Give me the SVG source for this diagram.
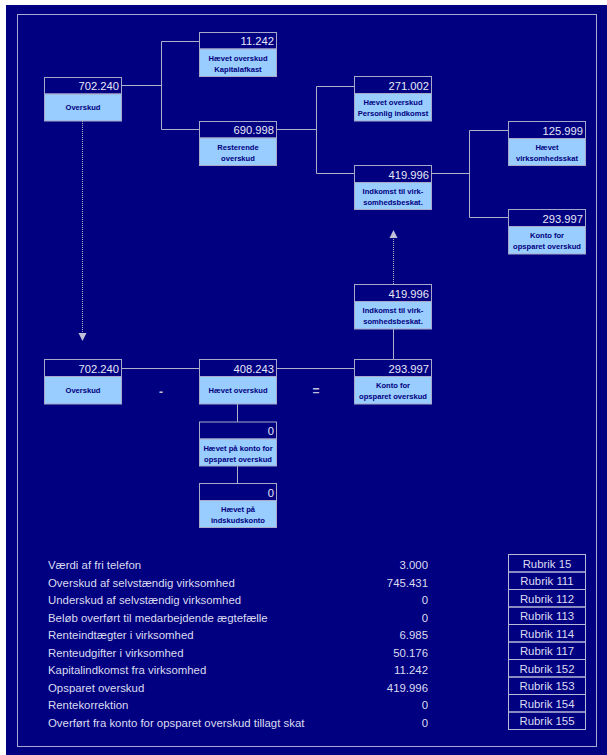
<svg xmlns="http://www.w3.org/2000/svg" width="607" height="755" viewBox="0 0 607 755">
  <style>
    .frame { fill: none; stroke: #a8a8d0; stroke-width: 1; }
    .hdr { fill: #000080; stroke: #a8a8c8; stroke-width: 1; }
    .lbl { fill: #99ccff; stroke: #a8a8c8; stroke-width: 1; }
    .val { font-family: "Liberation Sans", Arial, sans-serif; font-size: 11.2px; fill: #e8e8f8; text-anchor: end; }
    .cap { font-family: "Liberation Sans", Arial, sans-serif; font-size: 7.6px; font-weight: bold; fill: #000080; text-anchor: middle; }
    .wire { fill: none; stroke: #b0b0c8; stroke-width: 1; }
    .dot { fill: none; stroke: #b0b0c8; stroke-width: 1; stroke-dasharray: 1 1; }
    .head { fill: #c0c0d8; }
    .op { font-family: "Liberation Sans", Arial, sans-serif; font-size: 12px; font-weight: bold; fill: #c0c0d8; text-anchor: middle; }
    .row { font-family: "Liberation Sans", Arial, sans-serif; font-size: 11.4px; fill: #dcdcf0; }
    .num { font-family: "Liberation Sans", Arial, sans-serif; font-size: 11.4px; fill: #dcdcf0; text-anchor: end; }
    .rub { fill: none; stroke: #b8b8d8; stroke-width: 1; }
    .rubt { font-family: "Liberation Sans", Arial, sans-serif; font-size: 11.4px; fill: #dcdcf0; text-anchor: middle; }
  </style>

  <!-- page background and frame -->
  <rect x="0" y="0" width="607" height="755" fill="#ffffff"/>
  <rect x="6" y="5" width="601" height="750" fill="#000080"/>
  <rect class="frame" x="17.5" y="14.5" width="579" height="732"/>

  <!-- connectors -->
  <g id="connectors">
    <path class="wire" d="M122,85.5 H161.5 M161.5,41.5 V129.5 M161.5,41.5 H199 M161.5,129.5 H199"/>
    <path class="wire" d="M277,129.5 H316.5 M316.5,86.5 V173.5 M316.5,86.5 H354 M316.5,173.5 H354"/>
    <path class="wire" d="M431,173.5 H469.5 M469.5,130.5 V217.5 M469.5,130.5 H508 M469.5,217.5 H508"/>
    <path class="dot" d="M82.5,121 V333"/>
    <polygon class="head" points="78.5,333 86.5,333 82.5,341"/>
    <path class="dot" d="M393.5,284 V238"/>
    <polygon class="head" points="389.5,238 397.5,238 393.5,230"/>
    <path class="wire" d="M122,368.5 H199 M277,368.5 H354"/>
    <path class="wire" d="M393.5,329 V359"/>
    <path class="wire" d="M237.5,404 V422 M237.5,466 V483"/>
    <text class="op" x="161" y="396">-</text>
    <text class="op" x="316" y="395">=</text>
  </g>

  <!-- nodes -->
  <g id="n-overskud-top">
    <rect class="hdr" x="44.5" y="77.5" width="77" height="16.5"/>
    <rect class="lbl" x="44.5" y="94" width="77" height="27"/>
    <text class="val" x="119" y="90">702.240</text>
    <text class="cap" x="83" y="110">Overskud</text>
  </g>
  <g id="n-kapitalafkast">
    <rect class="hdr" x="199.5" y="32.5" width="77" height="16.5"/>
    <rect class="lbl" x="199.5" y="49" width="77" height="27.5"/>
    <text class="val" x="274" y="45">11.242</text>
    <text class="cap" x="238" y="60.5">Hævet overskud</text>
    <text class="cap" x="238" y="71.5">Kapitalafkast</text>
  </g>
  <g id="n-resterende">
    <rect class="hdr" x="199.5" y="121.5" width="77" height="16.5"/>
    <rect class="lbl" x="199.5" y="138" width="77" height="27.5"/>
    <text class="val" x="274" y="134">690.998</text>
    <text class="cap" x="238" y="149.5">Resterende</text>
    <text class="cap" x="238" y="160.5">overskud</text>
  </g>
  <g id="n-personlig">
    <rect class="hdr" x="354.5" y="76.5" width="77" height="17"/>
    <rect class="lbl" x="354.5" y="93.5" width="77" height="27.5"/>
    <text class="val" x="429" y="89.5">271.002</text>
    <text class="cap" x="393" y="105">Hævet overskud</text>
    <text class="cap" x="393" y="116">Personlig indkomst</text>
  </g>
  <g id="n-indkomst-top">
    <rect class="hdr" x="354.5" y="165.5" width="77" height="17"/>
    <rect class="lbl" x="354.5" y="182.5" width="77" height="27"/>
    <text class="val" x="429" y="178.5">419.996</text>
    <text class="cap" x="393" y="194">Indkomst til virk-</text>
    <text class="cap" x="393" y="205">somhedsbeskat.</text>
  </g>
  <g id="n-virksomhedsskat">
    <rect class="hdr" x="508.5" y="121.5" width="77" height="17"/>
    <rect class="lbl" x="508.5" y="138.5" width="77" height="27"/>
    <text class="val" x="583" y="134.5">125.999</text>
    <text class="cap" x="547" y="150">Hævet</text>
    <text class="cap" x="547" y="161">virksomhedsskat</text>
  </g>
  <g id="n-konto-top">
    <rect class="hdr" x="508.5" y="209.5" width="77" height="17"/>
    <rect class="lbl" x="508.5" y="226.5" width="77" height="27.5"/>
    <text class="val" x="583" y="222.5">293.997</text>
    <text class="cap" x="547" y="238">Konto for</text>
    <text class="cap" x="547" y="249">opsparet overskud</text>
  </g>
  <g id="n-indkomst-mid">
    <rect class="hdr" x="354.5" y="284.5" width="77" height="17"/>
    <rect class="lbl" x="354.5" y="301.5" width="77" height="27.5"/>
    <text class="val" x="429" y="297.5">419.996</text>
    <text class="cap" x="393" y="313">Indkomst til virk-</text>
    <text class="cap" x="393" y="324">somhedsbeskat.</text>
  </g>
  <g id="n-overskud-low">
    <rect class="hdr" x="44.5" y="359.5" width="77" height="17"/>
    <rect class="lbl" x="44.5" y="376.5" width="77" height="27.5"/>
    <text class="val" x="119" y="372.5">702.240</text>
    <text class="cap" x="83" y="393">Overskud</text>
  </g>
  <g id="n-haevet-overskud">
    <rect class="hdr" x="199.5" y="359.5" width="77" height="17"/>
    <rect class="lbl" x="199.5" y="376.5" width="77" height="27.5"/>
    <text class="val" x="274" y="372.5">408.243</text>
    <text class="cap" x="238" y="393">Hævet overskud</text>
  </g>
  <g id="n-konto-low">
    <rect class="hdr" x="354.5" y="359.5" width="77" height="17"/>
    <rect class="lbl" x="354.5" y="376.5" width="77" height="27.5"/>
    <text class="val" x="429" y="372.5">293.997</text>
    <text class="cap" x="393" y="388">Konto for</text>
    <text class="cap" x="393" y="399">opsparet overskud</text>
  </g>
  <g id="n-haevet-konto">
    <rect class="hdr" x="199.5" y="422" width="77" height="17"/>
    <rect class="lbl" x="199.5" y="439" width="77" height="27"/>
    <text class="val" x="274" y="435">0</text>
    <text class="cap" x="238" y="450.5">Hævet på konto for</text>
    <text class="cap" x="238" y="461.5">opsparet overskud</text>
  </g>
  <g id="n-haevet-indskud">
    <rect class="hdr" x="199.5" y="483.5" width="77" height="17"/>
    <rect class="lbl" x="199.5" y="500.5" width="77" height="27"/>
    <text class="val" x="274" y="496.5">0</text>
    <text class="cap" x="238" y="512">Hævet på</text>
    <text class="cap" x="238" y="523">indskudskonto</text>
  </g>

  <!-- summary table -->
  <g id="summary">
    <text class="row" x="48" y="569">Værdi af fri telefon</text>
    <text class="row" x="48" y="586.5">Overskud af selvstændig virksomhed</text>
    <text class="row" x="48" y="604">Underskud af selvstændig virksomhed</text>
    <text class="row" x="48" y="621.5">Beløb overført til medarbejdende ægtefælle</text>
    <text class="row" x="48" y="639">Renteindtægter i virksomhed</text>
    <text class="row" x="48" y="656.5">Renteudgifter i virksomhed</text>
    <text class="row" x="48" y="674">Kapitalindkomst fra virksomhed</text>
    <text class="row" x="48" y="691.5">Opsparet overskud</text>
    <text class="row" x="48" y="709">Rentekorrektion</text>
    <text class="row" x="48" y="726.5">Overført fra konto for opsparet overskud tillagt skat</text>

    <text class="num" x="428" y="569">3.000</text>
    <text class="num" x="428" y="586.5">745.431</text>
    <text class="num" x="428" y="604">0</text>
    <text class="num" x="428" y="621.5">0</text>
    <text class="num" x="428" y="639">6.985</text>
    <text class="num" x="428" y="656.5">50.176</text>
    <text class="num" x="428" y="674">11.242</text>
    <text class="num" x="428" y="691.5">419.996</text>
    <text class="num" x="428" y="709">0</text>
    <text class="num" x="428" y="726.5">0</text>

    <rect class="rub" x="508.5" y="554.5" width="77" height="17.5"/>
    <rect class="rub" x="508.5" y="572" width="77" height="17.5"/>
    <rect class="rub" x="508.5" y="589.5" width="77" height="17.5"/>
    <rect class="rub" x="508.5" y="607" width="77" height="17.5"/>
    <rect class="rub" x="508.5" y="624.5" width="77" height="17.5"/>
    <rect class="rub" x="508.5" y="642" width="77" height="17.5"/>
    <rect class="rub" x="508.5" y="659.5" width="77" height="17.5"/>
    <rect class="rub" x="508.5" y="677" width="77" height="17.5"/>
    <rect class="rub" x="508.5" y="694.5" width="77" height="17.5"/>
    <rect class="rub" x="508.5" y="712" width="77" height="17.5"/>

    <text class="rubt" x="547" y="567.5">Rubrik 15</text>
    <text class="rubt" x="547" y="585">Rubrik 111</text>
    <text class="rubt" x="547" y="602.5">Rubrik 112</text>
    <text class="rubt" x="547" y="620">Rubrik 113</text>
    <text class="rubt" x="547" y="637.5">Rubrik 114</text>
    <text class="rubt" x="547" y="655">Rubrik 117</text>
    <text class="rubt" x="547" y="672.5">Rubrik 152</text>
    <text class="rubt" x="547" y="690">Rubrik 153</text>
    <text class="rubt" x="547" y="707.5">Rubrik 154</text>
    <text class="rubt" x="547" y="725">Rubrik 155</text>
  </g>
</svg>
